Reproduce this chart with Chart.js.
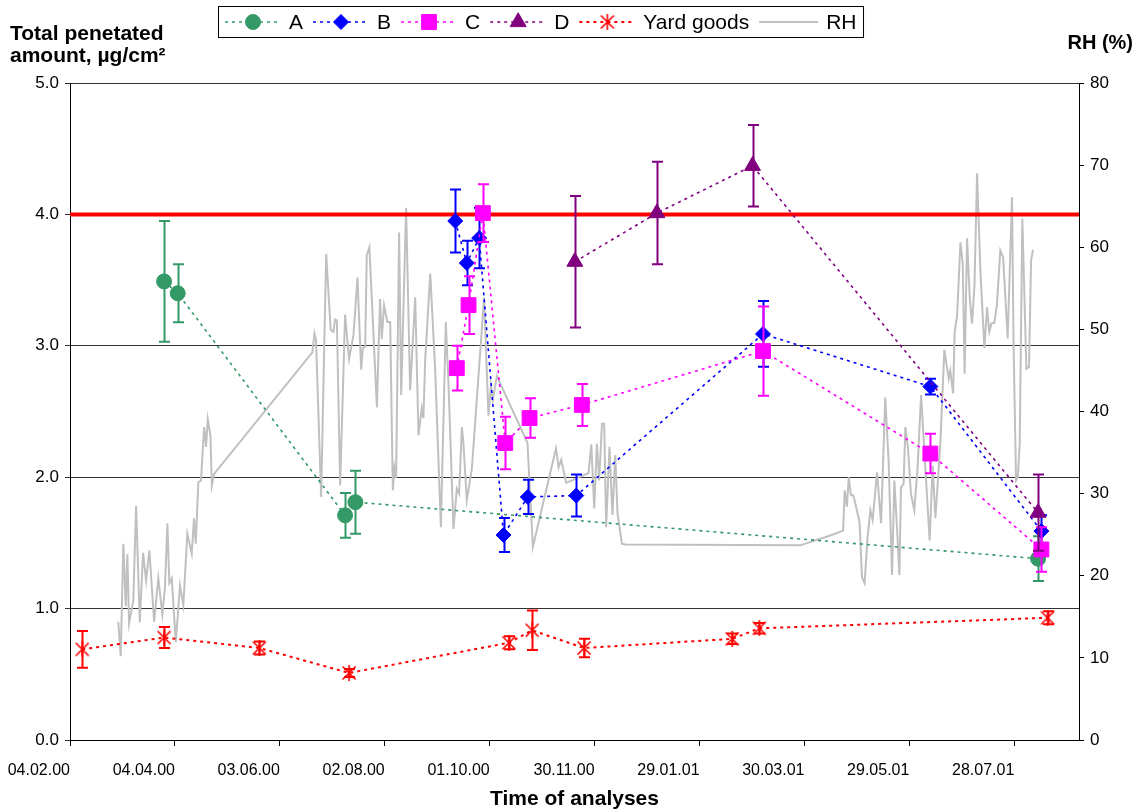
<!DOCTYPE html>
<html>
<head>
<meta charset="utf-8">
<title>Total penetated amount and RH</title>
<script src="https://cdn.jsdelivr.net/npm/chart.js@4.4.0/dist/chart.umd.min.js"></script>
<style>
  html, body { margin: 0; padding: 0; background: #fff; }
  #wrap { width: 1141px; height: 809px; }
</style>
</head>
<body>
<div id="wrap"><canvas id="chart" width="1141" height="809"></canvas></div>
<script>
// x values are days counted from 04.02.00
const xTickDays = [0, 60, 120, 180, 240, 300, 360, 420, 480, 540];
const xTickLabels = ['04.02.00', '04.04.00', '03.06.00', '02.08.00', '01.10.00',
                     '30.11.00', '29.01.01', '30.03.01', '29.05.01', '28.07.01'];

const aDays = [53.8, 61.6, 157.3, 163.2, 553.6];
const aVals = [3.49, 3.40, 1.71, 1.81, 1.38];
const aErr  = [0.46, 0.22, 0.17, 0.24, 0.17];

const bDays = [220.3, 226.9, 234.0, 247.9, 261.8, 289.5, 396.3, 492.0, 555.5];
const bVals = [3.95, 3.63, 3.82, 1.56, 1.85, 1.86, 3.09, 2.69, 1.59];
const bErr  = [0.24, 0.17, 0.23, 0.13, 0.13, 0.16, 0.25, 0.06, 0.12];

const cDays = [221.2, 227.9, 236.1, 248.9, 262.8, 292.7, 396.3, 492.0, 555.5];
const cVals = [2.83, 3.31, 4.01, 2.26, 2.45, 2.55, 2.96, 2.18, 1.45];
const cErr  = [0.17, 0.22, 0.22, 0.20, 0.15, 0.16, 0.34, 0.15, 0.17];

const dDays = [288.7, 335.6, 390.3, 553.6];
const dVals = [3.64, 4.01, 4.37, 1.73];
const dErr  = [0.50, 0.39, 0.31, 0.29];

const yardDays = [7.0, 53.8, 108.3, 159.6, 251.0, 264.3, 294.0, 378.7, 394.2, 559.0];
const yardVals = [0.69, 0.78, 0.70, 0.51, 0.74, 0.835, 0.70, 0.77, 0.85, 0.93];
const yardErr  = [0.14, 0.08, 0.05, 0.03, 0.05, 0.15, 0.07, 0.04, 0.04, 0.05];

// limit line
const limitDays = [0, 577];
const limitVals = [4.0, 4.0];

// relative humidity (%), right axis
const rhDays = [
  27.6, 29.0, 30.5, 31.9, 32.8, 33.8, 36.2, 37.8, 39.9, 41.8, 43.5, 45.4, 48.1, 50.5, 52.8, 54.3,
  55.7, 56.8, 58.2, 60.5, 62.9, 64.8, 67.1, 69.6, 70.9, 71.9, 73.4, 74.9, 76.7, 77.8, 78.8, 80.3,
  81.1, 82.4, 138.6, 139.8, 140.7, 143.6, 146.5, 149.1, 150.6, 151.6, 152.6, 154.5, 157.3, 159.6,
  162.1, 164.4, 166.5, 167.4, 168.8, 169.7, 171.2, 175.5, 177.3, 178.3, 179.6, 181.5, 183.1, 184.6,
  185.5, 186.5, 188.2, 189.4, 192.2, 194.5, 197.4, 199.3, 201.2, 202.1, 203.1, 206.0, 208.8, 212.1,
  214.9, 216.4, 219.3, 221.2, 222.5, 224.1, 225.0, 226.9, 229.8, 236.8, 239.3, 240.7, 241.8, 244.1,
  261.6, 264.7, 277.9, 279.4, 280.9, 283.8, 296.5, 298.1, 299.8, 301.3, 302.6, 304.2, 305.5, 306.6,
  308.5, 310.2, 311.8, 313.1, 315.6, 317.5, 417.6, 434.8, 442.1, 443.0, 444.3, 445.3, 446.6, 447.9,
  449.1, 451.5, 452.9, 454.4, 456.1, 457.7, 459.0, 461.5, 463.8, 466.2, 468.1, 470.1, 471.4, 472.9,
  474.3, 475.2, 476.7, 477.7, 479.2, 480.9, 482.8, 484.7, 486.7, 489.1, 491.6, 493.3, 494.9, 497.7,
  500.0, 502.5, 503.4, 505.0, 505.9, 507.3, 509.2, 510.5, 511.6, 513.0, 514.5, 515.8, 517.2, 518.7,
  520.6, 522.9, 524.4, 525.7, 526.9, 528.6, 530.1, 532.0, 533.6, 536.2, 538.7, 539.6, 541.0, 542.0,
  543.1, 544.6, 546.9, 548.4, 549.6, 550.7
];
const rhVals = [
  14.4, 10.2, 23.9, 16.3, 22.6, 14.2, 17.0, 28.5, 14.3, 22.8, 19.4, 23.1, 14.4, 19.7, 15.3, 18.6,
  26.4, 19.1, 19.7, 11.9, 18.8, 16.4, 25.1, 22.7, 27.0, 23.9, 31.4, 31.6, 38.1, 35.7, 39.1, 37.1,
  31.0, 32.4, 47.2, 49.5, 48.7, 29.6, 59.2, 49.9, 49.7, 51.2, 51.1, 31.0, 51.8, 46.4,
  49.3, 56.3, 45.1, 47.7, 47.9, 59.0, 60.0, 40.5, 53.7, 48.8, 52.9, 50.9, 50.9, 30.4,
  33.2, 31.9, 61.8, 42.0, 64.8, 42.6, 53.9, 37.1, 40.4, 39.2, 46.2, 56.8, 45.2, 25.9,
  50.9, 43.6, 25.7, 30.6, 30.0, 38.1, 36.1, 29.2, 33.0, 53.9, 39.5, 43.2, 41.4, 44.3,
  36.2, 23.5, 35.5, 33.2, 34.1, 31.3, 32.5, 36.0, 28.2, 36.1, 31.6, 38.5, 38.5, 25.9,
  35.7, 27.4, 34.7, 27.6, 23.9, 23.8, 23.7, 24.9, 25.5, 30.4, 28.4, 32.0, 29.8, 29.8,
  28.8, 26.5, 19.8, 19.1, 24.7, 28.0, 26.8, 32.6, 26.4, 41.7, 34.1, 20.1, 31.6, 25.9,
  20.1, 30.8, 31.2, 38.1, 35.5, 30.0, 28.0, 33.2, 42.0, 33.2, 24.3, 33.4, 27.0, 36.1,
  47.5, 44.0, 45.0, 42.2, 49.7, 51.7, 60.6, 58.0, 44.6, 61.1, 53.9, 50.7, 55.2, 69.0,
  57.2, 47.7, 52.7, 49.7, 50.7, 50.8, 53.1, 59.6, 58.8, 48.9, 66.1, 47.9, 31.6, 32.0,
  36.1, 63.5, 45.2, 45.4, 58.4, 59.7
];

const FONT = "'Liberation Sans', Arial, sans-serif";
const GREEN = '#339966', BLUE = '#0000FF', MAGENTA = '#FF00FF', PURPLE = '#800080', RED = '#FF0000', GREY = '#C0C0C0';
const DASH = [3, 4];

function pts(days, vals) {
  return days.map((d, i) => ({ x: d, y: vals[i] }));
}

// asterisk marker: an X with a vertical stroke
function asterisk(size, color) {
  const c = document.createElement('canvas');
  c.width = size; c.height = size;
  const g = c.getContext('2d');
  g.strokeStyle = color;
  g.lineWidth = 1.6;
  g.beginPath();
  g.moveTo(1.5, 1.5); g.lineTo(size - 1.5, size - 1.5);
  g.moveTo(size - 1.5, 1.5); g.lineTo(1.5, size - 1.5);
  g.moveTo(size / 2, 0); g.lineTo(size / 2, size);
  g.stroke();
  return c;
}
const starMark = asterisk(16, RED);

function series(label, days, vals, errs, color, style, radius, order) {
  return {
    label, data: pts(days, vals), errBars: errs, yAxisID: 'y',
    borderColor: color, backgroundColor: color, borderWidth: 1.6, borderDash: DASH,
    pointStyle: style, pointRadius: radius, pointBorderWidth: 1,
    pointBackgroundColor: color, pointBorderColor: color, order
  };
}

const datasets = [
  series('A', aDays, aVals, aErr, GREEN, 'circle', 7.5, 5),
  series('B', bDays, bVals, bErr, BLUE, 'rectRot', 7.5, 4),
  series('C', cDays, cVals, cErr, MAGENTA, 'rect', 10.5, 3),
  series('D', dDays, dVals, dErr, PURPLE, 'triangle', 9.2, 2),
  series('Yard goods', yardDays, yardVals, yardErr, RED, starMark, 8, 1),
  { label: 'limit', data: pts(limitDays, limitVals), yAxisID: 'y', borderColor: RED,
    borderWidth: 4, pointRadius: 0, order: 6 },
  { label: 'RH', data: pts(rhDays, rhVals), yAxisID: 'y1', borderColor: GREY,
    borderWidth: 2, pointRadius: 0, order: 7 }
];
datasets[4].borderWidth = 2;

// error bars go under each series' own markers
const errorBars = {
  id: 'errorBars',
  beforeDatasetDraw(chart, args) {
    const ds = chart.data.datasets[args.index];
    if (!ds.errBars) return;
    const ctx = chart.ctx;
    const xs = chart.scales.x, ys = chart.scales[ds.yAxisID];
    ctx.save();
    ctx.strokeStyle = ds.borderColor;
    ctx.lineWidth = 2;
    ds.data.forEach((p, i) => {
      const e = ds.errBars[i];
      const px = Math.round(xs.getPixelForValue(p.x)) + 0.5;
      const top = ys.getPixelForValue(p.y + e), bot = ys.getPixelForValue(p.y - e);
      ctx.beginPath();
      ctx.moveTo(px, top); ctx.lineTo(px, bot);
      ctx.moveTo(px - 5.5, top); ctx.lineTo(px + 5.5, top);
      ctx.moveTo(px - 5.5, bot); ctx.lineTo(px + 5.5, bot);
      ctx.stroke();
    });
    ctx.restore();
  }
};

// axis titles and the boxed legend along the top
const annotations = {
  id: 'annotations',
  afterDraw(chart) {
    const ctx = chart.ctx;
    ctx.save();
    ctx.fillStyle = '#000';
    ctx.font = 'bold 21px ' + FONT;
    ctx.textAlign = 'left';
    ctx.textBaseline = 'alphabetic';
    ctx.fillText('Total penetated', 10, 40);
    ctx.fillText('amount, \u00b5g/cm\u00b2', 10, 62);
    ctx.textAlign = 'center';
    ctx.fillText('Time of analyses', (chart.chartArea.left + chart.chartArea.right) / 2, 805);
    ctx.font = 'bold 20px ' + FONT;
    ctx.textAlign = 'right';
    ctx.fillText('RH (%)', 1133, 49);

    const items = [0, 1, 2, 3, 4, 6].map(i => chart.data.datasets[i]);
    ctx.font = '21px ' + FONT;
    ctx.textAlign = 'left';
    ctx.textBaseline = 'middle';
    const cy = 22;
    let x = 225;
    items.forEach(ds => {
      const len = ds.label === 'RH' ? 59 : 56;
      ctx.save();
      ctx.strokeStyle = ds.borderColor;
      ctx.lineWidth = ds.borderWidth;
      ctx.setLineDash(ds.borderDash || []);
      ctx.beginPath();
      ctx.moveTo(x, cy); ctx.lineTo(x + len, cy);
      ctx.stroke();
      ctx.restore();
      if (ds.pointRadius) {
        ctx.save();
        ctx.fillStyle = ds.backgroundColor;
        ctx.strokeStyle = ds.borderColor;
        ctx.lineWidth = 1;
        Chart.helpers.drawPoint(ctx, { pointStyle: ds.pointStyle, radius: ds.pointRadius, rotation: 0, borderWidth: 1 }, x + len / 2, cy);
        ctx.restore();
      }
      x += len + 8;
      ctx.fillStyle = '#000';
      ctx.fillText(ds.label, x, cy + 1);
      x += ctx.measureText(ds.label).width + 10;
    });
    ctx.strokeStyle = '#000';
    ctx.lineWidth = 1;
    ctx.strokeRect(218.5, 6.5, x - 3 - 218.5, 31);
    ctx.restore();
  }
};

new Chart(document.getElementById('chart'), {
  type: 'line',
  data: { datasets },
  plugins: [errorBars, annotations],
  options: {
    responsive: false,
    animation: false,
    layout: { padding: { top: 83, left: 0, right: 0, bottom: 0 } },
    elements: { line: { tension: 0 } },
    plugins: { legend: { display: false }, tooltip: { enabled: false } },
    scales: {
      x: {
        type: 'linear', min: 0, max: 577,
        // date labels end at their tick; keep the plot edges fixed
        afterFit(s) { s.height = 69; s.paddingLeft = 0; s.paddingRight = 0; },
        afterBuildTicks(s) { s.ticks = xTickDays.map(v => ({ value: v })); },
        ticks: {
          color: '#000', font: { family: FONT, size: 16 }, padding: 15, maxRotation: 0, align: 'end',
          callback: (v) => xTickLabels[xTickDays.indexOf(v)]
        },
        grid: { drawOnChartArea: false, drawTicks: true, tickLength: 6, color: '#000' },
        border: { display: true, color: '#000', width: 1 }
      },
      y: {
        position: 'left', min: 0, max: 5,
        afterFit(s) { s.width = 70; },
        ticks: { stepSize: 1, color: '#000', font: { family: FONT, size: 17 }, padding: 6,
                 callback: (v) => v.toFixed(1) },
        grid: { color: '#333', lineWidth: 1, tickLength: 5 },
        border: { display: true, color: '#000', width: 1 }
      },
      y1: {
        position: 'right', min: 0, max: 80,
        afterFit(s) { s.width = 62; },
        ticks: { stepSize: 10, color: '#000', font: { family: FONT, size: 17 }, padding: 6 },
        grid: { drawOnChartArea: false, color: '#000', tickLength: 5 },
        border: { display: true, color: '#000', width: 1 }
      }
    }
  }
});
</script>
</body>
</html>
